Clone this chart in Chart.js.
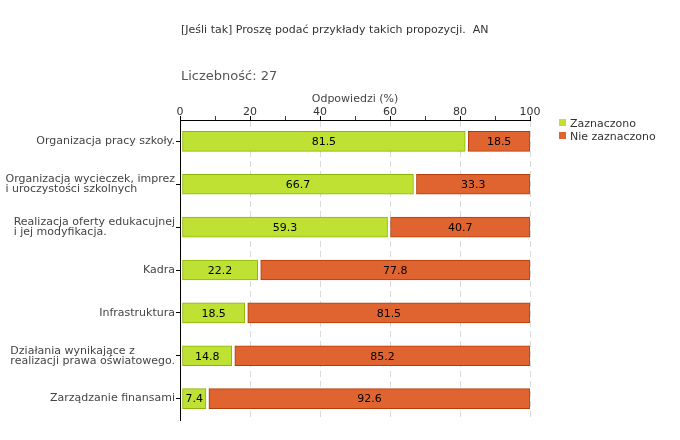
<!DOCTYPE html>
<html lang="pl">
<head>
<meta charset="utf-8">
<script src="https://cdn.jsdelivr.net/npm/chart.js@4.4.1/dist/chart.umd.min.js"></script>
<style>
    body { margin: 0; background: #fff; }
    #wrap { position: relative; width: 680px; height: 440px; font-family: 'DejaVu Sans', Verdana, sans-serif; }
    #wrap canvas { position: absolute; left: 0; top: 0; }
    .txt { position: absolute; white-space: pre; }
    #title { left: 181px; top: 23px; font-size: 11px; color: #333; }
    #count { left: 181px; top: 68px; font-size: 13px; color: #555; }
    .leg { position: absolute; left: 559px; font-size: 11px; color: #333; white-space: nowrap; }
    .leg i { display: inline-block; width: 7px; height: 7px; margin-right: 4px; vertical-align: 1px; }
</style>
</head>
<body>
<div id="wrap">
    <canvas id="chart" width="680" height="440"></canvas>
    <div class="txt" id="title">[Jeśli tak] Proszę podać przykłady takich propozycji.  AN</div>
    <div class="txt" id="count">Liczebność: 27</div>
    <div id="legend"></div>
</div>
<script>
const categories = [
    ['Organizacja pracy szkoły.'],
    ['Organizacja wycieczek, imprez', 'i uroczystości szkolnych'],
    ['Realizacja oferty edukacujnej', 'i jej modyfikacja.'],
    ['Kadra'],
    ['Infrastruktura'],
    ['Działania wynikające z', 'realizacji prawa oświatowego.'],
    ['Zarządzanie finansami']
];
const zaznaczono = [81.5, 66.7, 59.3, 22.2, 18.5, 14.8, 7.4];
const nieZaznaczono = [18.5, 33.3, 40.7, 77.8, 81.5, 85.2, 92.6];
const seriesNames = ['Zaznaczono', 'Nie zaznaczono'];
const xTicks = [0, 20, 40, 60, 80, 100];

const FONT = "'DejaVu Sans', Verdana, sans-serif";
const colors = [
    { fill: '#bee133', border: '#8cb40a' },
    { fill: '#e0642f', border: '#b23c0c' }
];

// legenda
document.getElementById('legend').innerHTML = seriesNames.map((n, i) =>
    '<div class="leg" style="top:' + (117 + i * 13) + 'px"><i style="background:' + colors[i].fill + '"></i>' + n + '</div>'
).join('');

// odstep miedzy slupkami (od strony podstawy)
const barGap = {
    id: 'barGap',
    afterDatasetsUpdate(chart) {
        chart.data.datasets.forEach((ds, di) => {
            chart.getDatasetMeta(di).data.forEach(el => {
                el.base += di === 0 ? 2 : 3;
            });
        });
    }
};

// wartosci na slupkach
const valueLabels = {
    id: 'valueLabels',
    afterDatasetsDraw(chart) {
        const ctx = chart.ctx;
        ctx.save();
        ctx.font = '11px ' + FONT;
        ctx.fillStyle = '#000';
        ctx.textAlign = 'center';
        ctx.textBaseline = 'middle';
        chart.data.datasets.forEach((ds, di) => {
            chart.getDatasetMeta(di).data.forEach((el, i) => {
                ctx.fillText(ds.data[i].toFixed(1), (el.x + el.base) / 2, el.y + 1);
            });
        });
        ctx.restore();
    }
};

// etykiety kategorii: blok wyrownany do prawej, linie do lewej
const catLabels = {
    id: 'catLabels',
    afterDraw(chart) {
        const ctx = chart.ctx;
        const yScale = chart.scales.y;
        const lh = 10;
        ctx.save();
        ctx.font = '11px ' + FONT;
        ctx.fillStyle = '#444';
        ctx.textAlign = 'left';
        ctx.textBaseline = 'middle';
        categories.forEach((lines, i) => {
            const w = Math.max(...lines.map(l => ctx.measureText(l).width));
            const x0 = 175 - w;
            const yc = yScale.getPixelForValue(i);
            const y0 = yc - (lines.length - 1) * lh / 2;
            lines.forEach((l, k) => ctx.fillText(l, x0, y0 + k * lh));
        });
        ctx.restore();
    }
};

new Chart(document.getElementById('chart'), {
    type: 'bar',
    data: {
        labels: categories,
        datasets: [zaznaczono, nieZaznaczono].map((d, i) => ({
            label: seriesNames[i],
            data: d,
            backgroundColor: colors[i].fill,
            borderColor: colors[i].border,
            borderWidth: 1,
            borderSkipped: false,
            barThickness: 20
        }))
    },
    options: {
        indexAxis: 'y',
        responsive: false,
        animation: false,
        events: [],
        layout: { padding: { top: 0, right: 150, bottom: 20, left: 0 } },
        plugins: {
            legend: { display: false },
            tooltip: { enabled: false }
        },
        scales: {
            x: {
                position: 'top',
                stacked: true,
                min: 0,
                max: 100,
                afterFit: s => { s.height = 120; },
                afterBuildTicks: s => {
                    // ticki co 10, opisane tylko wartosci z xTicks
                    s.ticks = [];
                    for (let v = 0; v <= 100; v += 10) s.ticks.push({ value: v });
                },
                ticks: {
                    autoSkip: false,
                    maxRotation: 0,
                    padding: -2,
                    color: '#333',
                    font: { family: FONT, size: 11, lineHeight: 1 },
                    callback: v => xTicks.includes(v) ? String(v) : ''
                },
                grid: {
                    tickLength: 4,
                    color: c => (c.tick && c.tick.value % 20 === 0 && c.tick.value !== 0) ? '#d9d9d9' : 'rgba(0,0,0,0)',
                    tickColor: c => (c.tick && c.tick.value % 20 === 0) ? '#000' : '#d40000'
                },
                border: { display: true, color: '#000', dash: [6, 4] },
                title: {
                    display: true,
                    text: 'Odpowiedzi (%)',
                    color: '#444',
                    font: { family: FONT, size: 11 },
                    padding: { top: 93, bottom: 0 }
                }
            },
            y: {
                stacked: true,
                afterFit: s => { s.width = 180; },
                ticks: { display: false },
                grid: { offset: false, drawOnChartArea: false, tickLength: 4, tickColor: '#000' },
                border: { display: true, color: '#000' }
            }
        }
    },
    plugins: [barGap, valueLabels, catLabels]
});
</script>
</body>
</html>
